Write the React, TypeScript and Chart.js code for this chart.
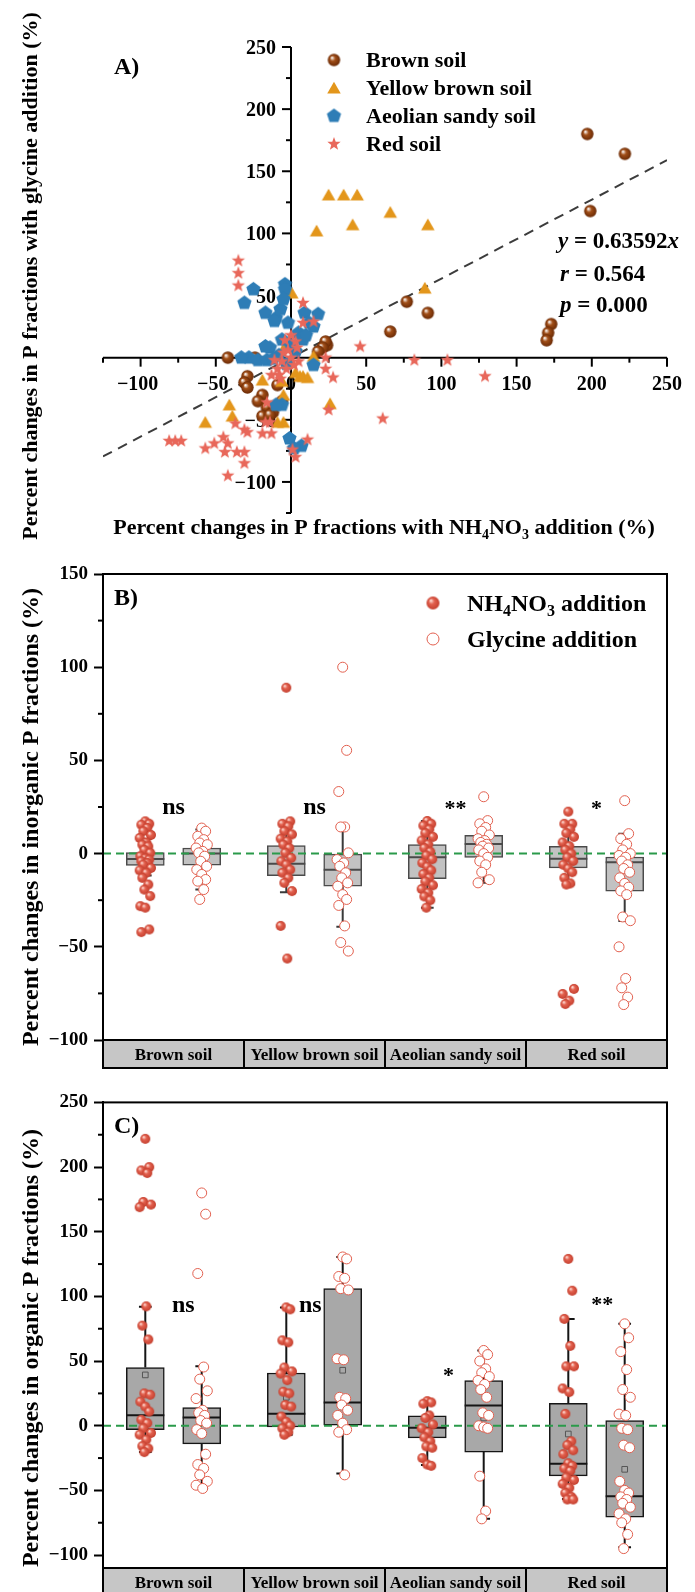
import { useEffect, useRef } from 'react';
import { Chart, registerables } from 'chart.js';

Chart.register(...registerables);

const SERIF = "'Liberation Serif', 'Times New Roman', serif";

// ---------- Panel A: percent change of each P fraction (x: NH4NO3, y: glycine) ----------
const brownSoilPairs = [
  [197, 180], [222, 164], [199, 118], [77, 45], [91, 36], [66, 21],
  [173, 27], [171, 20], [170, 14], [24, 10], [23, 13], [21, 8], [18, 5],
  [-42, 0], [-24, 0], [-29, -15], [-31, -20], [-29, -24], [-19, -30],
  [-22, -35], [-16, -40], [-19, -47], [-12, -44], [-14, -46], [-9, -22], [-6, -35],
];
const yellowBrownSoilPairs = [
  [25, 131], [35, 131], [44, 131], [17, 102], [41, 107], [66, 117], [91, 107],
  [89, 56], [26, -37], [15, 1], [8, -15], [0.5, 52], [-41, -38], [-57, -52],
  [-39, -47], [11, -16], [6, -15], [-6, -19], [-5, -30], [-5, -52], [-9, -52],
  [-19, -18], [-4, 9], [3, -12],
];
const aeolianSandySoilPairs = [
  [-4, 59], [-4, 55], [-25, 55], [-31, 44], [-17, 36], [-10, 32], [-11, 29.5],
  [-7, 39], [-5, 47], [-2, 28], [9, 36], [18, 35], [12, 28], [15, 25], [8, 14.5],
  [-6, 14.5], [-14, 8], [0, 10], [-28, 0], [-22, -2], [-16, -2], [-8, 2], [3, 5],
  [15, -6], [-6, -38], [-10, -38], [-1, -65], [7, -71], [2, -73], [-33, 0],
  [5, 20], [10, 18], [-3, -5], [-12, -1], [-17, 9],
];
const redSoilPairs = [
  [-35, 78], [-35, 68], [-35, 58], [8, 44], [8, 28], [15, 29], [3, 13], [4, 8],
  [-11, -2], [-6, -3], [-9, -9], [-3, -9], [-13, -14], [-7, -17], [0, 0], [5, -3],
  [2, -6], [-5, 4], [-2, 6], [23, -9], [28, -16], [25, -42], [-16, -36], [-37, -53],
  [-31, -58], [-45, -64], [-42, -69], [-51, -69], [-57, -73], [-31, -76], [-36, -76],
  [-44, -76], [-31, -85], [-19, -61], [-13, -61], [11, -66], [1, -74], [3, -80],
  [-14, -52], [-17, -52], [-81, -67], [-77, -67], [-73, -67], [-42, -95], [-29, -60],
  [46, 9], [82, -2], [104, -2], [129, -15], [61, -49], [23, 0], [-4, 14], [0, 18], [-8, -14],
];
const REGRESSION_SLOPE = 0.63592;
const REGRESSION_R = '0.564';
const REGRESSION_P = '0.000';
const A_X_TICKS = [-100, -50, 0, 50, 100, 150, 200, 250];
const A_Y_TICKS = [250, 200, 150, 100, 50, -50, -100];

// ---------- Panels B and C ----------
const SOILS = ['Brown soil', 'Yellow brown soil', 'Aeolian sandy soil', 'Red soil'];

// box summaries: [lower whisker, Q1, median, Q3, upper whisker]
const inorganicNh4Box = [
  [-11.8, -6.4, -2.9, 0.5, 7.8],
  [-20.7, -11.8, -5.5, 4.3, 16.7],
  [-29, -13.4, -2, 4.8, 17.5],
  [-16.6, -7.7, -2.7, 3.9, 15.5],
];
const inorganicGlyBox = [
  [-19.3, -6.2, 0, 3, 12.9],
  [-39.3, -17.5, -8.6, 0, 14.3],
  [-15.7, -2, 5.2, 9.8, 17.7],
  [-36.1, -20.1, -4.6, -1.8, 10.7],
];
const inorganicNh4Points = [
  [17.3, 16, 15.5, 13.8, 12, 10, 8.4, 6, 4.8, 3.9, 2, 0.4, -1.4, -2.5, -3.2, -4.1, -5, -5.9, -7.7, -9, -10.3, -13, -16.6, -19.3, -22.8, -28.2, -29, -40.7, -42.1],
  [89, 17.3, 16, 14.6, 12, 10.3, 8, 6.6, 4.8, 3, 0.4, -2.3, -4.1, -5.9, -8.6, -10.3, -13, -15.7, -20.1, -38.8, -56.3],
  [17.5, 16, 15, 13, 11, 9, 7, 5, 3, 1, -1, -3, -5, -7, -9, -11, -13, -15, -17, -19, -21, -23, -25, -29],
  [22.5, 16, 16, 13, 11, 9, 6, 4, 2, 0, -2, -4, -6, -8, -10, -13, -16, -16.6, -72.6, -75.3, -78.9, -80.7],
];
const inorganicGlyPoints = [
  [13.7, 12, 9.3, 7.5, 5.7, 4.8, 3, 1.2, 0.4, -1.4, -4.1, -6.8, -8.6, -11.2, -13.9, -14.8, -19.3, -24.6],
  [100, 55.4, 33.3, 14.3, 14.3, 0.4, -3.2, -5, -6.8, -10.3, -13, -15.7, -17.5, -22, -24.6, -27.8, -38.8, -47.7, -52.3],
  [30.5, 17.7, 16, 14, 12, 10, 8, 7, 6, 5, 4, 3, 2, 0, -2, -4, -6, -10, -14, -15.7],
  [28.4, 10.7, 8, 5, 2, 0, -1, -2, -4, -6, -8, -10, -13, -16, -18, -20, -22, -34, -36, -50, -67, -72, -77, -81],
];
const inorganicSigLabels = ['ns', 'ns', '**', '*'];
const inorganicSigHeights = [24, 24, 26, 26];

const organicNh4Box = [
  [-20.4, -3, 8.2, 45, 92],
  [-7, -1, 9.2, 40.8, 91.5],
  [-30.4, -9.4, -1.5, 7.7, 18.4],
  [-56.6, -38.8, -29.3, 17.3, 82.6],
];
const organicGlyBox = [
  [-48.5, -14, 6.4, 14, 45.9],
  [-37, 0, 17.9, 106, 130.5],
  [-72, -20.4, 15.6, 35, 58.2],
  [-94, -70.7, -54.6, 4, 78.8],
];
const organicNh4Means = [39.3, 22, null, -6.4];
const organicGlyMeans = [null, 42.9, 6, -33.7];
const organicNh4Points = [
  [221.8, 200, 197.4, 195.4, 173, 171, 169, 92.3, 77.4, 66.7, 25, 24, 18.6, 14.8, 11, 4.6, 2, -2, -5.6, -6.9, -10.7, -15.8, -17.6, -20.4],
  [91.5, 90, 66, 64.5, 45, 42, 40.3, 35.2, 26.3, 25, 16, 14.8, 7.1, 3, 0, -2, -5, -7],
  [19, 18, 17, 8, 6, 1, -2, -5, -9, -12, -16, -17, -25, -30, -31],
  [129, 104.4, 82.6, 61.7, 45.9, 45.9, 28.8, 26, 9.2, -12, -15, -19, -22, -29, -31, -33, -35, -40, -42, -45, -48, -52, -55, -57, -57],
];
const organicGlyPoints = [
  [180, 163.6, 117.7, 45.4, 36, 27, 21, 12, 10, 8, 4, 2, -3, -6, -22, -30, -33, -38, -43, -46, -48.5],
  [130.5, 129, 115.4, 114, 106, 105, 51.8, 51, 22, 21, 16, 12, 8, 2, -3, -5, -38],
  [58.2, 55, 50, 44, 41, 38, 35, 32, 28, 22, 10, 8, 0, -1, -2, -39, -66, -72],
  [78.8, 68, 57.3, 43.4, 28, 22, 9, 8, -2, -3, -15, -17, -43, -50, -52, -55, -57, -60, -63, -68, -72, -75, -84, -95],
];
const organicSigLabels = ['ns', 'ns', '*', '**'];
const organicSigHeights = [92, 92, 41, 96];

// ---------- styling ----------
const RED = '#E2604F';
const GREEN = '#2A9A4A';
const JITTER = [0, 0.028, -0.028, 0.014, -0.014, 0.04, -0.04, 0.007, -0.021, 0.021, -0.007, 0.035, -0.035];
const BOX_HALF = 0.135; // in category units (a category is 1 unit wide)
const CAP_HALF = 0.045;
const SIDE_OFFSET = 0.2;
const STRIP_H = 28;
const POINT_R = 5;

const minus = (v: number) => (v < 0 ? '\u2212' + Math.abs(v) : String(v));

function makeCanvas(size: number) {
  const c = document.createElement('canvas');
  c.width = size;
  c.height = size;
  return c;
}

function sphere(r: number, hi: string, mid: string, base: string) {
  const s = Math.ceil(r * 2 + 2);
  const c = makeCanvas(s);
  const g = c.getContext('2d')!;
  const m = s / 2;
  const grad = g.createRadialGradient(m - r * 0.35, m - r * 0.4, r * 0.05, m, m, r);
  grad.addColorStop(0, hi);
  grad.addColorStop(0.4, mid);
  grad.addColorStop(1, base);
  g.fillStyle = grad;
  g.beginPath();
  g.arc(m, m, r, 0, Math.PI * 2);
  g.fill();
  return c;
}

function polygon(r: number, points: number, inner: number | null, color: string) {
  const s = Math.ceil(r * 2 + 2);
  const c = makeCanvas(s);
  const g = c.getContext('2d')!;
  const m = s / 2;
  g.fillStyle = color;
  g.beginPath();
  const n = inner ? points * 2 : points;
  for (let i = 0; i < n; i++) {
    const rad = -Math.PI / 2 + (i * Math.PI * 2) / n;
    const rr = inner && i % 2 === 1 ? inner : r;
    const x = m + Math.cos(rad) * rr;
    const y = m + Math.sin(rad) * rr + (points === 3 ? r * 0.2 : 0);
    if (i === 0) g.moveTo(x, y);
    else g.lineTo(x, y);
  }
  g.closePath();
  g.fill();
  return c;
}

type Seg = { t: string; sub?: boolean; it?: boolean };

function segFont(s: Seg, size: number) {
  return `${s.it ? 'italic ' : ''}bold ${s.sub ? Math.round(size * 0.65) : size}px ${SERIF}`;
}

// draws mixed text (italic / subscript); y is the visual middle of capitals
function drawRich(ctx: CanvasRenderingContext2D, segs: Seg[], x: number, y: number, size: number, align: string) {
  ctx.textBaseline = 'alphabetic';
  ctx.textAlign = 'left';
  let w = 0;
  for (const s of segs) {
    ctx.font = segFont(s, size);
    w += ctx.measureText(s.t).width;
  }
  let cx = align === 'center' ? x - w / 2 : align === 'right' ? x - w : x;
  const base = y + size * 0.33;
  for (const s of segs) {
    ctx.font = segFont(s, size);
    ctx.fillText(s.t, cx, s.sub ? base + size * 0.22 : base);
    cx += ctx.measureText(s.t).width;
  }
}

function drawVertical(ctx: CanvasRenderingContext2D, segs: Seg[], cx: number, cy: number, size: number) {
  ctx.save();
  ctx.translate(cx, cy);
  ctx.rotate(-Math.PI / 2);
  drawRich(ctx, segs, 0, 0, size, 'center');
  ctx.restore();
}

function line(ctx: CanvasRenderingContext2D, x1: number, y1: number, x2: number, y2: number) {
  ctx.beginPath();
  ctx.moveTo(x1, y1);
  ctx.lineTo(x2, y2);
  ctx.stroke();
}

function glyphCentered(ctx: CanvasRenderingContext2D, text: string, x: number, y: number) {
  ctx.textAlign = 'center';
  ctx.textBaseline = 'alphabetic';
  const m = ctx.measureText(text);
  ctx.fillText(text, x, y + (m.actualBoundingBoxAscent - m.actualBoundingBoxDescent) / 2);
}

const pairs = (arr: number[][]) => arr.map(([x, y]) => ({ x, y }));

// ---------------- Panel A ----------------
function panelAConfig() {
  const brownImg = sphere(6.2, '#FFFFFF', '#A24F18', '#6A2A05');
  const triImg = polygon(7.8, 3, null, '#E3961B');
  const pentImg = polygon(7.5, 5, null, '#2E7DB6');
  const starImg = polygon(7, 5, 2.9, '#E8675A');
  const markers = [brownImg, triImg, pentImg, starImg];
  const names = ['Brown soil', 'Yellow brown soil', 'Aeolian sandy soil', 'Red soil'];

  const plugin = {
    id: 'panelAAxes',
    beforeDatasetsDraw(chart: any) {
      const { ctx } = chart;
      const xs = chart.scales.x;
      const ys = chart.scales.y;
      const ox = xs.getPixelForValue(0);
      const oy = ys.getPixelForValue(0);
      ctx.save();
      ctx.strokeStyle = '#000';
      ctx.lineWidth = 2;
      line(ctx, xs.getPixelForValue(-125), oy, xs.getPixelForValue(250), oy);
      line(ctx, ox, ys.getPixelForValue(-125), ox, ys.getPixelForValue(250));
      for (let v = -125; v <= 250; v += 25) {
        if (v === 0) continue;
        const len = v % 50 === 0 ? 9 : 5;
        const px = xs.getPixelForValue(v);
        line(ctx, px, oy, px, oy + len);
        const py = ys.getPixelForValue(v);
        line(ctx, ox - len, py, ox, py);
      }
      ctx.fillStyle = '#000';
      ctx.font = `bold 20px ${SERIF}`;
      for (const v of A_X_TICKS) {
        glyphCentered(ctx, minus(v), xs.getPixelForValue(v) + (v < 0 ? -3 : 0), oy + 25);
      }
      ctx.textAlign = 'right';
      ctx.textBaseline = 'alphabetic';
      for (const v of A_Y_TICKS) {
        const m = ctx.measureText('0');
        ctx.fillText(minus(v), ox - 15, ys.getPixelForValue(v) + m.actualBoundingBoxAscent / 2);
      }
      ctx.restore();
    },
    afterDraw(chart: any) {
      const { ctx } = chart;
      ctx.save();
      ctx.fillStyle = '#000';
      drawVertical(ctx, [{ t: 'Percent changes in P fractions with glycine addition (%)' }], 30, 276, 22);
      drawRich(ctx, [
        { t: 'Percent changes in P fractions with NH' }, { t: '4', sub: true },
        { t: 'NO' }, { t: '3', sub: true }, { t: ' addition (%)' },
      ], 384, 527, 22, 'center');
      drawRich(ctx, [{ t: 'A' }, { t: ')' }], 114, 66, 24, 'left');
      names.forEach((n, i) => {
        const y = 60 + i * 28;
        const img = markers[i];
        ctx.drawImage(img, 334 - img.width / 2, y - img.height / 2);
        drawRich(ctx, [{ t: n }], 366, y, 22, 'left');
      });
      drawRich(ctx, [{ t: 'y', it: true }, { t: ' = ' + REGRESSION_SLOPE }, { t: 'x', it: true }], 558, 240, 23, 'left');
      drawRich(ctx, [{ t: 'r', it: true }, { t: ' = ' + REGRESSION_R }], 560, 273, 23, 'left');
      drawRich(ctx, [{ t: 'p', it: true }, { t: ' = ' + REGRESSION_P }], 560, 304, 23, 'left');
      ctx.restore();
    },
  };

  return {
    type: 'scatter',
    data: {
      datasets: [
        {
          type: 'line',
          data: [
            { x: -125, y: -125 * REGRESSION_SLOPE },
            { x: 250, y: 250 * REGRESSION_SLOPE },
          ],
          borderColor: '#3C3C3C',
          borderWidth: 2,
          borderDash: [10, 7],
          pointRadius: 0,
          order: 10,
        },
        { data: pairs(brownSoilPairs), pointStyle: brownImg, pointRadius: 6, order: 4 },
        { data: pairs(yellowBrownSoilPairs), pointStyle: triImg, pointRadius: 6, order: 3 },
        { data: pairs(aeolianSandySoilPairs), pointStyle: pentImg, pointRadius: 6, order: 2 },
        { data: pairs(redSoilPairs), pointStyle: starImg, pointRadius: 6, order: 1 },
      ],
    },
    options: {
      responsive: false,
      animation: false,
      events: [],
      layout: { autoPadding: false, padding: { left: 103, right: 28, top: 47, bottom: 32 } },
      scales: {
        x: { type: 'linear', min: -125, max: 250, display: false },
        y: { type: 'linear', min: -125, max: 250, display: false },
      },
      plugins: { legend: { display: false }, tooltip: { enabled: false } },
    },
    plugins: [plugin],
  };
}

// ---------------- Panels B and C ----------------
type BoxSpec = {
  key: string;
  padTop: number;
  padBottom: number;
  yMin: number;
  yMax: number;
  minor: number[];
  nh4Box: number[][];
  glyBox: number[][];
  nh4Pts: number[][];
  glyPts: number[][];
  nh4Mean: (number | null)[] | null;
  glyMean: (number | null)[] | null;
  boxFill: string;
  boxLine: string;
  whisker: string;
  title: string;
  titleY: number;
  letterY: number;
  sig: string[];
  sigY: number[];
  sigDx: number[];
  legend: boolean;
};

function boxConfig(spec: BoxSpec) {
  const solidImg = sphere(POINT_R, '#FFE3DC', '#E3614F', '#C43F2E');
  const legendImg = sphere(6.5, '#FFE3DC', '#E3614F', '#C43F2E');
  const nh4X = (i: number) => i + 0.5 - SIDE_OFFSET;
  const glyX = (i: number) => i + 0.5 + SIDE_OFFSET;

  const bars: any[] = [];
  const whiskers: any[] = [];
  const caps: any[] = [];
  const medians: any[] = [];
  const addBox = (b: number[], c: number) => {
    bars.push({ x: c, y: [b[1], b[3]] });
    whiskers.push({ x: c, y: b[0] }, { x: c, y: b[1] }, { x: c, y: null }, { x: c, y: b[3] }, { x: c, y: b[4] }, { x: c, y: null });
    caps.push(
      { x: c - CAP_HALF, y: b[0] }, { x: c + CAP_HALF, y: b[0] }, { x: c, y: null },
      { x: c - CAP_HALF, y: b[4] }, { x: c + CAP_HALF, y: b[4] }, { x: c, y: null },
    );
    medians.push({ x: c - BOX_HALF, y: b[2] }, { x: c + BOX_HALF, y: b[2] }, { x: c, y: null });
  };
  spec.nh4Box.forEach((b, i) => addBox(b, nh4X(i)));
  spec.glyBox.forEach((b, i) => addBox(b, glyX(i)));

  const jittered = (sets: number[][], xf: (i: number) => number) =>
    sets.flatMap((vals, i) => vals.map((v, j) => ({ x: xf(i) + JITTER[j % JITTER.length], y: v })));

  const means: any[] = [];
  if (spec.nh4Mean) spec.nh4Mean.forEach((m, i) => { if (m !== null) means.push({ x: nh4X(i), y: m }); });
  if (spec.glyMean) spec.glyMean.forEach((m, i) => { if (m !== null) means.push({ x: glyX(i), y: m }); });

  const plugin = {
    id: 'boxPanel' + spec.key,
    afterDraw(chart: any) {
      const { ctx, chartArea: a } = chart;
      const xs = chart.scales.x;
      const ys = chart.scales.y;
      ctx.save();
      ctx.strokeStyle = '#000';
      ctx.lineWidth = 2;
      for (const v of spec.minor) {
        const py = ys.getPixelForValue(v);
        line(ctx, a.left - 5, py, a.left, py);
      }
      ctx.strokeRect(a.left, a.top, a.right - a.left, a.bottom - a.top);
      SOILS.forEach((name, i) => {
        const x0 = xs.getPixelForValue(i);
        const x1 = xs.getPixelForValue(i + 1);
        ctx.fillStyle = '#C6C6C6';
        ctx.fillRect(x0, a.bottom, x1 - x0, STRIP_H);
        ctx.strokeRect(x0, a.bottom, x1 - x0, STRIP_H);
        ctx.fillStyle = '#000';
        drawRich(ctx, [{ t: name }], (x0 + x1) / 2, a.bottom + STRIP_H / 2, 17, 'center');
      });
      ctx.fillStyle = '#000';
      drawVertical(ctx, [{ t: spec.title }], 30, spec.titleY, 24);
      drawRich(ctx, [{ t: spec.key }, { t: ')' }], 114, spec.letterY, 24, 'left');
      spec.sig.forEach((s, i) => {
        ctx.font = s === 'ns' ? `bold 24px ${SERIF}` : `bold 22px ${SERIF}`;
        glyphCentered(ctx, s, xs.getPixelForValue(i + 0.5 + spec.sigDx[i]), ys.getPixelForValue(spec.sigY[i]));
      });
      if (spec.legend) {
        ctx.drawImage(legendImg, 433 - legendImg.width / 2, 58 - legendImg.height / 2);
        drawRich(ctx, [{ t: 'NH' }, { t: '4', sub: true }, { t: 'NO' }, { t: '3', sub: true }, { t: ' addition' }], 467, 58, 24, 'left');
        ctx.beginPath();
        ctx.arc(433, 94, 6, 0, Math.PI * 2);
        ctx.fillStyle = '#fff';
        ctx.fill();
        ctx.strokeStyle = RED;
        ctx.lineWidth = 1;
        ctx.stroke();
        ctx.fillStyle = '#000';
        drawRich(ctx, [{ t: 'Glycine addition' }], 467, 94, 24, 'left');
      }
      ctx.restore();
    },
  };

  return {
    type: 'bar',
    data: {
      datasets: [
        {
          type: 'line',
          data: [{ x: 0, y: 0 }, { x: 4, y: 0 }],
          borderColor: GREEN,
          borderWidth: 2,
          borderDash: [8, 5],
          pointRadius: 0,
          order: 3,
        },
        {
          type: 'line',
          data: medians,
          borderColor: spec.boxLine,
          borderWidth: 2,
          pointRadius: 0,
          spanGaps: false,
          order: 4,
        },
        {
          type: 'bar',
          data: bars,
          backgroundColor: spec.boxFill,
          borderColor: spec.boxLine,
          borderWidth: 1.5,
          borderSkipped: false,
          barThickness: 38,
          order: 5,
        },
        {
          type: 'line',
          data: whiskers,
          borderColor: spec.whisker,
          borderWidth: 2,
          pointRadius: 0,
          spanGaps: false,
          order: 6,
        },
        {
          type: 'line',
          data: caps,
          borderColor: spec.whisker,
          borderWidth: 2,
          pointRadius: 0,
          spanGaps: false,
          order: 6,
        },
        {
          type: 'scatter',
          data: means,
          pointStyle: 'rect',
          pointRadius: 4,
          borderColor: '#555',
          borderWidth: 1,
          backgroundColor: 'rgba(0,0,0,0)',
          order: 2,
        },
        {
          type: 'scatter',
          data: jittered(spec.nh4Pts, nh4X),
          pointStyle: solidImg,
          pointRadius: POINT_R,
          order: 1,
        },
        {
          type: 'scatter',
          data: jittered(spec.glyPts, glyX),
          pointStyle: 'circle',
          pointRadius: POINT_R,
          borderColor: RED,
          borderWidth: 1,
          backgroundColor: '#FFFFFF',
          order: 0,
        },
      ],
    },
    options: {
      responsive: false,
      animation: false,
      events: [],
      layout: { autoPadding: false, padding: { left: 0, right: 28, top: spec.padTop, bottom: spec.padBottom } },
      scales: {
        x: { type: 'linear', min: 0, max: 4, offset: false, display: false },
        y: {
          type: 'linear',
          min: spec.yMin,
          max: spec.yMax,
          afterFit: (s: any) => { s.width = 103; },
          border: { display: true, color: '#000', width: 2 },
          grid: { drawOnChartArea: false, drawTicks: true, tickLength: 9, tickWidth: 2, tickColor: '#000' },
          ticks: {
            stepSize: 50,
            includeBounds: false,
            padding: 6,
            color: '#000',
            font: { family: SERIF, weight: 'bold', size: 19 },
            callback: (v: number) => minus(v),
          },
        },
      },
      plugins: { legend: { display: false }, tooltip: { enabled: false } },
    },
    plugins: [plugin],
  };
}

const SPEC_B: BoxSpec = {
  key: 'B',
  padTop: 29,
  padBottom: 45,
  yMin: -100,
  yMax: 150,
  minor: [-75, -25, 25, 75, 125],
  nh4Box: inorganicNh4Box,
  glyBox: inorganicGlyBox,
  nh4Pts: inorganicNh4Points,
  glyPts: inorganicGlyPoints,
  nh4Mean: null,
  glyMean: null,
  boxFill: '#C2C2C2',
  boxLine: '#4A4A4A',
  whisker: '#3A3A3A',
  title: 'Percent changes in inorganic P fractions (%)',
  titleY: 272,
  letterY: 52,
  sig: inorganicSigLabels,
  sigY: inorganicSigHeights,
  sigDx: [0, 0, 0, 0],
  legend: true,
};

const SPEC_C: BoxSpec = {
  key: 'C',
  padTop: 17,
  padBottom: 24,
  yMin: -110,
  yMax: 250,
  minor: [-75, -25, 25, 75, 125, 175, 225],
  nh4Box: organicNh4Box,
  glyBox: organicGlyBox,
  nh4Pts: organicNh4Points,
  glyPts: organicGlyPoints,
  nh4Mean: organicNh4Means,
  glyMean: organicGlyMeans,
  boxFill: '#A8A8A8',
  boxLine: '#151515',
  whisker: '#151515',
  title: 'Percent changes in organic P fractions (%)',
  titleY: 263,
  letterY: 40,
  sig: organicSigLabels,
  sigY: organicSigHeights,
  sigDx: [0.07, -0.03, -0.05, 0.04],
  legend: false,
};

function ChartCanvas({ top, height, make }: { top: number; height: number; make: () => any }) {
  const ref = useRef<HTMLCanvasElement | null>(null);
  useEffect(() => {
    const chart = new Chart(ref.current as HTMLCanvasElement, make());
    return () => chart.destroy();
  }, []);
  return (
    <canvas
      ref={ref}
      width={695}
      height={height}
      style={{ position: 'absolute', left: 0, top, width: 695, height, display: 'block' }}
    />
  );
}

export default function App() {
  return (
    <div style={{ position: 'absolute', left: 0, top: 0, width: 695, height: 1592, background: '#fff', overflow: 'hidden' }}>
      <ChartCanvas top={0} height={545} make={panelAConfig} />
      <ChartCanvas top={545} height={540} make={() => boxConfig(SPEC_B)} />
      <ChartCanvas top={1085} height={507} make={() => boxConfig(SPEC_C)} />
    </div>
  );
}
